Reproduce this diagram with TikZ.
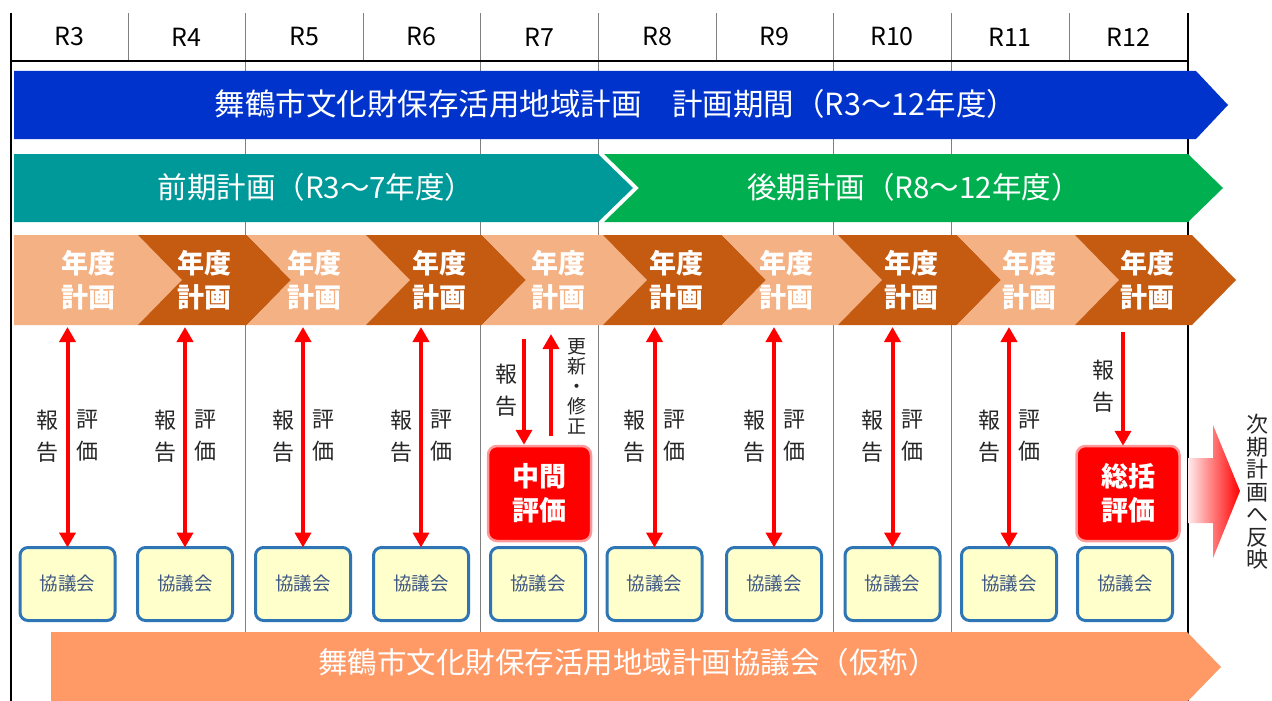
\documentclass[tikz,border=0pt]{standalone}
\usepackage{fontspec}
\setmainfont{Noto Sans CJK JP}
\usetikzlibrary{arrows.meta}
\definecolor{barblue}{RGB}{0,51,204}
\definecolor{barteal}{RGB}{0,153,153}
\definecolor{bargreen}{RGB}{0,176,80}
\definecolor{chlight}{RGB}{244,177,131}
\definecolor{chdark}{RGB}{197,90,17}
\definecolor{kfill}{RGB}{255,255,204}
\definecolor{kborder}{RGB}{46,117,182}
\definecolor{ktext}{RGB}{60,85,130}
\definecolor{pinkborder}{RGB}{255,153,153}
\definecolor{botbar}{RGB}{255,153,102}
\definecolor{gridgrey}{RGB}{128,128,128}
\definecolor{lbltext}{RGB}{38,38,38}
\newcommand\myfs[2]{\fontsize{#1}{#2}\selectfont}
\begin{document}
\begin{tikzpicture}[x=1pt,y=-1pt,
  hdr/.style={text=black,font=\myfs{25}{28}},
  bartext/.style={text=white,font=\myfs{30.5}{34}},
  bartextb/.style={text=white,font=\myfs{29.5}{32}},
  chtext/.style={text=white,font=\bfseries\myfs{27}{34},align=center},
  lbl/.style={text=lbltext,font=\myfs{22}{32},align=center},
  lblsmall/.style={text=lbltext,font=\myfs{19}{20},align=center},
  kyo/.style={draw=kborder,line width=3pt,fill=kfill,rounded corners=8pt,minimum width=95pt,minimum height=73pt,text=ktext,font=\myfs{18.5}{22}},
  redbox/.style={draw=pinkborder,line width=2.5pt,fill=red,rounded corners=9pt,minimum width=103pt,minimum height=95pt,text=white,font=\bfseries\myfs{27}{34},align=center},
  redarrow/.style={draw=red,line width=4pt,-{Triangle[width=16pt,length=15pt]}},
  dblarrow/.style={draw=red,line width=4pt,{Triangle[width=16pt,length=15pt]}-{Triangle[width=16pt,length=15pt]}},
  gridline/.style={draw=gridgrey,line width=0.8pt},
  frameline/.style={draw=black,line width=2pt}
]
\useasboundingbox (0,0) rectangle (1272,701);
\fill[white] (0,0) rectangle (1272,701);

% grid
\foreach \x in {245,480,598,833,951} \draw[gridline] (\x,13) -- (\x,701);
\foreach \x in {128,363,716,1069} \draw[gridline] (\x,13) -- (\x,61);
\draw[frameline] (11,13) -- (11,701);
\draw[frameline] (1188,13) -- (1188,701);
\draw[frameline] (11,61) -- (1188,61);

% header
\foreach \l/\x in {R3/69.5,R4/186.5,R5/304,R6/421.5,R7/539,R8/657,R9/774.5,R10/892,R11/1010,R12/1128.5}
  \node[hdr] (h\l) at (\x,37) {\l};

% blue bar
\fill[barblue] (14,71) -- (1196,71) -- (1228,105) -- (1196,139) -- (14,139) -- cycle;
\node[bartext] (blue) at (616,104) {舞鶴市文化財保存活用地域計画　計画期間（R3～12年度）};

% teal and green bars
\fill[barteal] (14,154) -- (598,154) -- (633,188) -- (598,222) -- (14,222) -- cycle;
\fill[bargreen] (604,154) -- (1188,154) -- (1223,188) -- (1188,222) -- (604,222) -- (639,188) -- cycle;
\node[bartextb] (early) at (316,187) {前期計画（R3～7年度）};
\node[bartextb] (late) at (914,187) {後期計画（R8～12年度）};

% chevrons
\fill[chlight] (14,235) -- (138,235) -- (182,280) -- (138,325) -- (14,325) -- cycle;
\foreach \a/\b/\c in {138/247/chdark,247/366/chlight,366/482/chdark,482/603/chlight,603/722/chdark,722/838/chlight,838/957/chdark,957/1075/chlight,1075/1192/chdark}
  \fill[\c] (\a,235) -- (\b,235) -- (\b+44,280) -- (\b,325) -- (\a,325) -- (\a+44,280) -- cycle;
\foreach \i/\x in {1/88,2/204,3/314,4/439,5/558,6/676,7/786,8/911,9/1029,10/1147}
  \node[chtext] (c\i) at (\x,280) {年度\\計画};

% bottom bar
\fill[botbar] (51,632) -- (1187,632) -- (1221,667) -- (1187,702) -- (51,702) -- cycle;
\node[bartextb] (council) at (628,662) {舞鶴市文化財保存活用地域計画協議会（仮称）};

% council boxes
\foreach \i/\x in {1/67.5,2/185,3/303,4/421,5/538,6/654.5,7/774,8/892.5,9/1009,10/1125}
  \node[kyo] (k\i) at (\x,584) {協議会};

% evaluation boxes
\node[redbox] (mid) at (539.5,493.5) {中間\\評価};
\node[redbox] (fin) at (1128,493.5) {総括\\評価};

% double arrows with labels
\coordinate (chevbot) at (0,327);
\foreach \i in {1,2,3,4,6,7,8,9} {
  \coordinate (t\i) at (k\i.north |- chevbot);
  \draw[dblarrow] (t\i) -- ([yshift=-1.5pt]k\i.north);
  \node[lbl] (rep\i) at ([xshift=-20pt]k\i.north |- 0,436) {報\\告};
  \node[lbl] (ev\i) at ([xshift=20pt]k\i.north |- 0,436) {評\\価};
}

% R7 arrows
\coordinate (m1) at (524,339);
\coordinate (m2) at (551,436);
\coordinate (m3) at (551,334);
\draw[redarrow] (m1) -- (mid.north -| m1);
\draw[redarrow] (m2) -- (m3);
\node[lbl] (rep5) at (506,390) {報\\告};
\node[lblsmall] (upd) at (577,386) {更\\新\\・\\修\\正};

% R12 arrow
\coordinate (f1) at (1123,332);
\draw[redarrow] (f1) -- ([yshift=-1pt]fin.north -| f1);
\node[lbl] (rep10) at (1103,386) {報\\告};

% gradient arrow to next plan
\shade[left color=red!8,right color=red] (1188,458) -- (1213,458) -- (1213,425) -- (1240,491) -- (1213,558) -- (1213,523) -- (1188,523) -- cycle;
\node[text=lbltext,font=\myfs{22}{22.5},align=center] (next) at (1257,492) {次\\期\\計\\画\\へ\\反\\映};
\end{tikzpicture}
\end{document}
